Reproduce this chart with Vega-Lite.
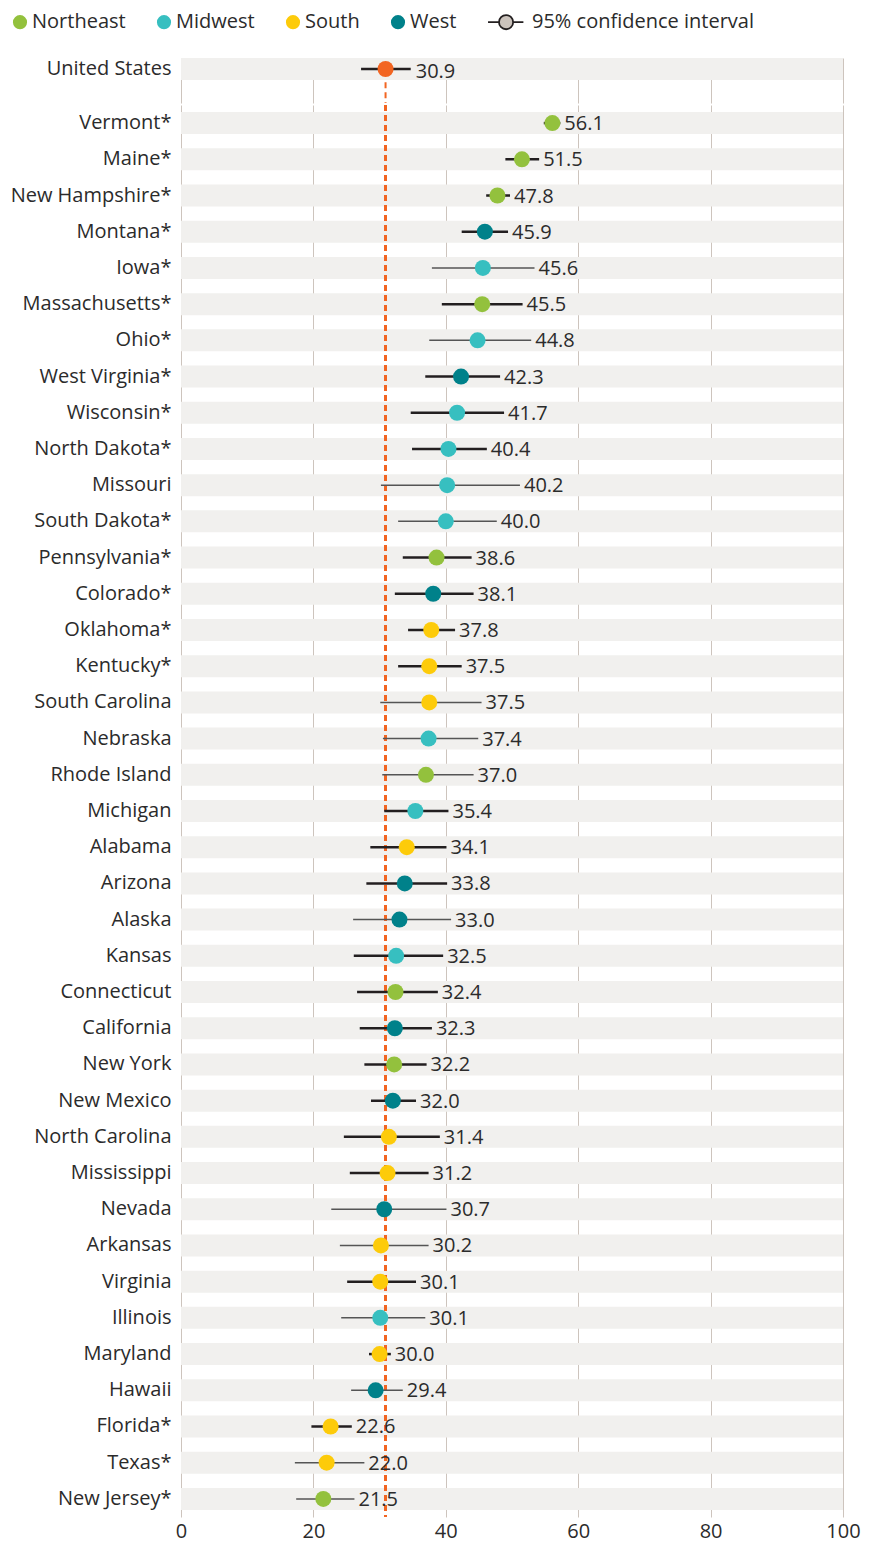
{
  "$schema": "https://vega.github.io/schema/vega-lite/v6.json",
  "padding": {"left": 10, "top": 12, "right": 0, "bottom": 0},
  "background": "white",
  "spacing": 0,
  "config": {
    "font": "Open Sans",
    "view": {"stroke": null},
    "axisY": {"ticks": false, "domain": false, "grid": false, "labelFontSize": 20, "labelColor": "#2b2b2b", "labelPadding": 10, "title": null},
    "axisX": {"ticks": false, "domain": false, "grid": true, "gridColor": "#cdc4bd", "gridWidth": 1, "labelFontSize": 20, "labelColor": "#2b2b2b", "labelPadding": 4, "labelFlush": false, "title": null}
  },
  "vconcat": [
    {
      "width": 662,
      "height": 45,
      "data": {"values": [{"state": "United States", "value": 30.9, "lo": 27.2, "hi": 34.7}]},
      "encoding": {
        "y": {"field": "state", "type": "nominal", "sort": null, "title": null, "scale": {"paddingInner": 0, "paddingOuter": 0.523, "align": 0}}
      },
      "layer": [
        {
          "mark": {"type": "bar", "color": "#f1f0ee", "height": 22},
          "encoding": {
            "x": {"datum": 0, "type": "quantitative", "scale": {"domain": [0, 100], "nice": false}, "axis": {"labels": false, "values": [0, 20, 40, 60, 80, 100]}},
            "x2": {"datum": 100}
          }
        },
        {
          "mark": {"type": "rule", "color": "#f26522", "strokeWidth": 2, "strokeDash": [6, 4]},
          "encoding": {
            "x": {"datum": 30.9, "type": "quantitative"},
            "y": {"datum": "United States", "bandPosition": 1.1},
            "y2": {"value": "height"}
          }
        },
        {
          "mark": {"type": "rule", "color": "#231f20", "strokeWidth": 2.5},
          "encoding": {
            "x": {"field": "lo", "type": "quantitative"},
            "x2": {"field": "hi"}
          }
        },
        {
          "mark": {"type": "point", "filled": true, "opacity": 1, "size": 256, "shape": "circle", "color": "#f26522"},
          "encoding": {"x": {"field": "value", "type": "quantitative"}}
        },
        {
          "mark": {"type": "text", "align": "left", "baseline": "middle", "dx": 5, "dy": 3, "fontSize": 20, "color": "#2b2b2b"},
          "encoding": {
            "x": {"field": "hi", "type": "quantitative"},
            "text": {"field": "value", "type": "quantitative", "format": ".1f"}
          }
        }
      ]
    },
    {
      "width": 662,
      "height": 1412,
      "data": {"values": [
        {"state": "Vermont*", "region": "Northeast", "value": 56.1, "lo": 54.8, "hi": 57.3, "precision": "high"},
        {"state": "Maine*", "region": "Northeast", "value": 51.5, "lo": 49.0, "hi": 54.1, "precision": "high"},
        {"state": "New Hampshire*", "region": "Northeast", "value": 47.8, "lo": 46.1, "hi": 49.7, "precision": "high"},
        {"state": "Montana*", "region": "West", "value": 45.9, "lo": 42.4, "hi": 49.4, "precision": "high"},
        {"state": "Iowa*", "region": "Midwest", "value": 45.6, "lo": 37.9, "hi": 53.4, "precision": "low"},
        {"state": "Massachusetts*", "region": "Northeast", "value": 45.5, "lo": 39.4, "hi": 51.6, "precision": "high"},
        {"state": "Ohio*", "region": "Midwest", "value": 44.8, "lo": 37.5, "hi": 52.9, "precision": "low"},
        {"state": "West Virginia*", "region": "West", "value": 42.3, "lo": 36.9, "hi": 48.2, "precision": "high"},
        {"state": "Wisconsin*", "region": "Midwest", "value": 41.7, "lo": 34.7, "hi": 48.8, "precision": "high"},
        {"state": "North Dakota*", "region": "Midwest", "value": 40.4, "lo": 34.9, "hi": 46.2, "precision": "high"},
        {"state": "Missouri", "region": "Midwest", "value": 40.2, "lo": 30.2, "hi": 51.2, "precision": "low"},
        {"state": "South Dakota*", "region": "Midwest", "value": 40.0, "lo": 32.8, "hi": 47.7, "precision": "low"},
        {"state": "Pennsylvania*", "region": "Northeast", "value": 38.6, "lo": 33.5, "hi": 43.9, "precision": "high"},
        {"state": "Colorado*", "region": "West", "value": 38.1, "lo": 32.3, "hi": 44.2, "precision": "high"},
        {"state": "Oklahoma*", "region": "South", "value": 37.8, "lo": 34.3, "hi": 41.4, "precision": "high"},
        {"state": "Kentucky*", "region": "South", "value": 37.5, "lo": 32.8, "hi": 42.4, "precision": "high"},
        {"state": "South Carolina", "region": "South", "value": 37.5, "lo": 30.1, "hi": 45.4, "precision": "low"},
        {"state": "Nebraska", "region": "Midwest", "value": 37.4, "lo": 30.5, "hi": 44.9, "precision": "low"},
        {"state": "Rhode Island", "region": "Northeast", "value": 37.0, "lo": 30.4, "hi": 44.2, "precision": "low"},
        {"state": "Michigan", "region": "Midwest", "value": 35.4, "lo": 30.7, "hi": 40.4, "precision": "high"},
        {"state": "Alabama", "region": "South", "value": 34.1, "lo": 28.6, "hi": 40.1, "precision": "high"},
        {"state": "Arizona", "region": "West", "value": 33.8, "lo": 28.0, "hi": 40.2, "precision": "high"},
        {"state": "Alaska", "region": "West", "value": 33.0, "lo": 26.0, "hi": 40.8, "precision": "low"},
        {"state": "Kansas", "region": "Midwest", "value": 32.5, "lo": 26.1, "hi": 39.6, "precision": "high"},
        {"state": "Connecticut", "region": "Northeast", "value": 32.4, "lo": 26.6, "hi": 38.8, "precision": "high"},
        {"state": "California", "region": "West", "value": 32.3, "lo": 27.0, "hi": 37.9, "precision": "high"},
        {"state": "New York", "region": "Northeast", "value": 32.2, "lo": 27.7, "hi": 37.1, "precision": "high"},
        {"state": "New Mexico", "region": "West", "value": 32.0, "lo": 28.7, "hi": 35.5, "precision": "high"},
        {"state": "North Carolina", "region": "South", "value": 31.4, "lo": 24.6, "hi": 39.1, "precision": "high"},
        {"state": "Mississippi", "region": "South", "value": 31.2, "lo": 25.5, "hi": 37.4, "precision": "high"},
        {"state": "Nevada", "region": "West", "value": 30.7, "lo": 22.7, "hi": 40.1, "precision": "low"},
        {"state": "Arkansas", "region": "South", "value": 30.2, "lo": 24.0, "hi": 37.4, "precision": "low"},
        {"state": "Virginia", "region": "South", "value": 30.1, "lo": 25.1, "hi": 35.5, "precision": "high"},
        {"state": "Illinois", "region": "Midwest", "value": 30.1, "lo": 24.2, "hi": 36.9, "precision": "low"},
        {"state": "Maryland", "region": "South", "value": 30.0, "lo": 28.4, "hi": 31.7, "precision": "high"},
        {"state": "Hawaii", "region": "West", "value": 29.4, "lo": 25.7, "hi": 33.5, "precision": "low"},
        {"state": "Florida*", "region": "South", "value": 22.6, "lo": 19.7, "hi": 25.8, "precision": "high"},
        {"state": "Texas*", "region": "South", "value": 22.0, "lo": 17.2, "hi": 27.7, "precision": "low"},
        {"state": "New Jersey*", "region": "Northeast", "value": 21.5, "lo": 17.4, "hi": 26.2, "precision": "low"}
      ]},
      "layer": [
        {
          "mark": {"type": "bar", "color": "#f1f0ee", "height": 22},
          "encoding": {
            "y": {"field": "state", "type": "nominal", "sort": null, "title": null,
                  "scale": {"paddingInner": 0, "paddingOuter": 0},
                  "axis": {"labelExpr": "indexof(datum.label, '*') < 0 ? datum.label + '\u00a0\u00a0' : datum.label"}},
            "x": {"datum": 0, "type": "quantitative", "scale": {"domain": [0, 100], "nice": false}, "axis": {"values": [0, 20, 40, 60, 80, 100]}},
            "x2": {"datum": 100}
          }
        },
        {
          "mark": {"type": "rule", "color": "#f26522", "strokeWidth": 2, "strokeDash": [6, 4]},
          "encoding": {"x": {"datum": 30.9, "type": "quantitative"}}
        },
        {
          "mark": {"type": "rule"},
          "encoding": {
            "y": {"field": "state", "type": "nominal", "sort": null},
            "x": {"field": "lo", "type": "quantitative"},
            "x2": {"field": "hi"},
            "stroke": {"field": "precision", "type": "nominal", "scale": {"domain": ["high", "low"], "range": ["#231f20", "#555555"]}, "legend": null},
            "strokeWidth": {"field": "precision", "type": "nominal", "scale": {"domain": ["high", "low"], "range": [2.5, 1.5]}, "legend": null}
          }
        },
        {
          "mark": {"type": "point", "filled": true, "opacity": 1, "size": 256, "shape": "circle"},
          "encoding": {
            "y": {"field": "state", "type": "nominal", "sort": null},
            "x": {"field": "value", "type": "quantitative"},
            "color": {"field": "region", "type": "nominal",
              "scale": {"domain": ["Northeast", "Midwest", "South", "West", "95% confidence interval"], "range": ["#93c13d", "#37bfc0", "#fdcb0a", "#00818a", "#cbc3bc"]},
              "legend": {
                "title": null, "orient": "none", "direction": "horizontal", "legendX": -171, "legendY": -46,
                "labelFontSize": 20, "labelColor": "#2b2b2b", "labelLimit": 400, "symbolSize": 200, "labelOffset": 2, "columnPadding": 27,
                "encoding": {
                  "symbols": {
                    "shape": {"condition": {"test": "datum.value === '95% confidence interval'", "value": "M-1.55,0L0,0M2,0L3.45,0M2,0A1,1,0,1,1,0,0A1,1,0,1,1,2,0Z"}, "value": "circle"},
                    "stroke": {"condition": {"test": "datum.value === '95% confidence interval'", "value": "#231f20"}, "value": "transparent"},
                    "strokeWidth": {"value": 1.8}
                  },
                  "labels": {
                    "dx": {"condition": {"test": "datum.value === '95% confidence interval'", "value": 21}, "value": 0}
                  }
                }
              }}
          }
        },
        {
          "mark": {"type": "text", "align": "left", "baseline": "middle", "dx": 4, "dy": 1, "fontSize": 20, "color": "#2b2b2b"},
          "encoding": {
            "y": {"field": "state", "type": "nominal", "sort": null},
            "x": {"field": "hi", "type": "quantitative"},
            "text": {"field": "value", "type": "quantitative", "format": ".1f"}
          }
        }
      ]
    }
  ]
}
